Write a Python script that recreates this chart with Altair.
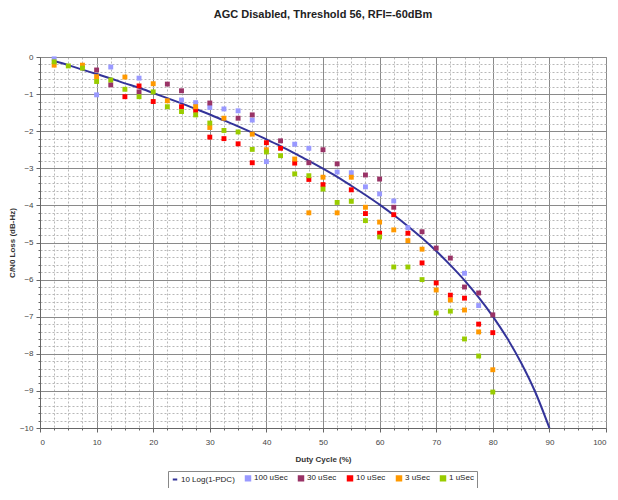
import altair as alt
import pandas as pd
import numpy as np

# ---- data ----
duty = [2.5, 5, 7.5, 10, 12.5, 15, 17.5, 20, 22.5, 25, 27.5, 30, 32.5, 35, 37.5, 40,
        42.5, 45, 47.5, 50, 52.5, 55, 57.5, 60, 62.5, 65, 67.5, 70, 72.5, 75, 77.5, 80]

us100 = [-0.05, None, None, -1.02, -0.27, None, -0.57, None, None, -1.16, -1.23, -1.36,
         -1.40, -1.45, -1.70, -2.82, None, -2.35, -2.46, None, -3.10, -3.12, -3.50, -3.69,
         -3.88, -4.60, None, None, None, -5.83, -6.70, None]
us30 = [None, None, None, -0.35, -0.75, None, -0.94, None, -0.73, -0.91, None, -1.24,
        None, -1.65, -1.56, None, -2.26, None, -2.85, -2.50, -2.88, None, -3.18, -3.29,
        -4.05, None, -4.71, -5.15, -5.42, -6.20, -6.36, -6.95]
us10 = [None, None, None, None, None, -1.07, -0.78, -1.20, None, -1.34, -1.44, -2.16,
        -2.20, -2.34, -2.85, -2.31, -2.46, -2.86, -3.30, -3.44, None, -3.58, -4.22, -4.75,
        -4.25, -4.75, -5.55, -6.09, -6.42, -6.50, -7.20, -7.43]
us3 = [-0.22, None, -0.22, -0.53, None, -0.54, None, -0.72, -1.18, None, -1.34, -1.90,
       -1.65, None, -2.08, -2.50, None, -2.75, -4.20, -3.24, -4.20, -3.24, -4.05, -4.45,
       -4.66, -4.95, -5.18, -6.28, -6.55, -6.82, -7.41, -8.43]
us1 = [-0.13, -0.24, -0.30, -0.66, -0.62, -0.87, -1.07, -0.94, -1.34, -1.47, -1.56, -1.78,
       -1.98, -2.02, -2.49, -2.56, -2.66, -3.15, -3.20, -3.56, -3.92, -3.89, -4.41, -4.85,
       -5.66, -5.66, -6.00, -6.90, -6.85, -7.60, -8.06, -9.03]

curve_x = [2.5, 5, 7.5, 10, 12.5, 15, 17.5, 20, 22.5, 25, 27.5, 30, 32.5, 35, 37.5, 40,
           42.5, 45, 47.5, 50, 52.5, 55, 57.5, 60, 62.5, 65, 67.5, 70, 72.5, 75, 77.5, 80,
           82.5, 85, 87.5, 90]
curve_y = [-0.11, -0.22, -0.34, -0.46, -0.58, -0.71, -0.83, -0.97, -1.11, -1.25, -1.40,
           -1.55, -1.71, -1.87, -2.04, -2.22, -2.40, -2.60, -2.80, -3.01, -3.23, -3.47,
           -3.72, -3.98, -4.26, -4.56, -4.88, -5.23, -5.61, -6.02, -6.48, -6.99, -7.57,
           -8.24, -9.03, -10.0]

series_names = ["10 Log(1-PDC)", "100 uSec", "30 uSec", "10 uSec", "3 uSec", "1 uSec"]
series_colors = ["#333399", "#9999FF", "#993366", "#FF0000", "#FF9900", "#99CC00"]
series_shapes = ["stroke", "square", "square", "square", "square", "square"]

rows = []
for name, vals in zip(series_names[1:], [us100, us30, us10, us3, us1]):
    for x, y in zip(duty, vals):
        if y is not None:
            rows.append({"duty": x, "loss": y, "series": name})
pts = pd.DataFrame(rows)
line_df = pd.DataFrame({"duty": curve_x, "loss": curve_y, "series": series_names[0]})

FONT = "Liberation Sans"

x_vals = [float(v) for v in np.round(np.arange(0, 100.01, 2.5), 2)]
y_vals = [float(v) for v in np.round(np.arange(-10, 0.001, 0.2), 2)]

x_major = "datum.value % 10 === 0"
y_major = "abs(datum.value - round(datum.value)) < 0.001"

x_axis = alt.Axis(
    values=x_vals,
    tickCount=1000,
    labelOverlap=False,
    labelExpr=f"{x_major} ? format(datum.value, 'd') : ''",
    title="Duty Cycle (%)",
    grid=True,
    gridColor={"condition": {"test": x_major, "value": "#8a8a8a"}, "value": "#b8b8b8"},
    gridDash={"condition": {"test": x_major, "value": []}, "value": [2, 2]},
    tickSize={"condition": {"test": x_major, "value": 4}, "value": 2},
    tickColor="#666666",
    domainColor="#666666",
    labelFont=FONT, labelFontSize=8, labelColor="#444444", labelPadding=6,
    titleFont=FONT, titleFontSize=8, titleFontWeight="bold", titleColor="#333333",
    titlePadding=9,
)
y_axis = alt.Axis(
    values=y_vals,
    tickCount=1000,
    labelOverlap=False,
    labelExpr=f"{y_major} ? format(datum.value, 'd') : ''",
    title="C/N0 Loss (dB-Hz)",
    grid=True,
    gridColor={"condition": {"test": y_major, "value": "#8a8a8a"}, "value": "#b8b8b8"},
    gridDash={"condition": {"test": y_major, "value": []}, "value": [2, 2]},
    tickSize={"condition": {"test": y_major, "value": 4}, "value": 2},
    tickColor="#666666",
    domainColor="#666666",
    labelFont=FONT, labelFontSize=8, labelColor="#444444", labelPadding=3,
    titleFont=FONT, titleFontSize=8, titleFontWeight="bold", titleColor="#333333",
    titlePadding=3,
)

x_enc = alt.X("duty:Q", scale=alt.Scale(domain=[0, 100], nice=False), axis=x_axis)
y_enc = alt.Y("loss:Q", scale=alt.Scale(domain=[-10, 0], nice=False), axis=y_axis)

color = alt.Color(
    "series:N",
    scale=alt.Scale(domain=series_names, range=series_colors),
    legend=alt.Legend(
        title=None, orient="none", legendX=128, legendY=414, direction="horizontal",
        columns=6, strokeColor="#888888", padding=3, labelFont=FONT, labelFontSize=8,
        labelColor="#222222", symbolSize=20, symbolStrokeWidth=2, columnPadding=6,
        labelOffset=2,
    ),
)
shape = alt.Shape("series:N", scale=alt.Scale(domain=series_names, range=series_shapes))

line = alt.Chart(line_df).mark_line(strokeWidth=2, interpolate="monotone").encode(
    x=x_enc, y=y_enc, color=color
)
points = alt.Chart(pts).mark_point(filled=True, size=24, opacity=1).encode(
    x="duty:Q", y="loss:Q", color="series:N", shape=shape
)

chart = (
    alt.layer(line, points)
    .properties(
        width=566,
        height=371,
        autosize=alt.AutoSizeParams(type="none"),
        padding={"left": 32, "top": 49, "right": 4, "bottom": 60},
        title=alt.TitleParams(
            "AGC Disabled, Threshold 56, RFI=-60dBm",
            font=FONT, fontSize=11, fontWeight="bold", color="#222222",
            anchor="middle", offset=33,
        ),
        background="white",
    )
    .configure_view(stroke="#808080", strokeWidth=1)
)

chart.save("out.html", embed_options={"renderer": "svg", "actions": False})
